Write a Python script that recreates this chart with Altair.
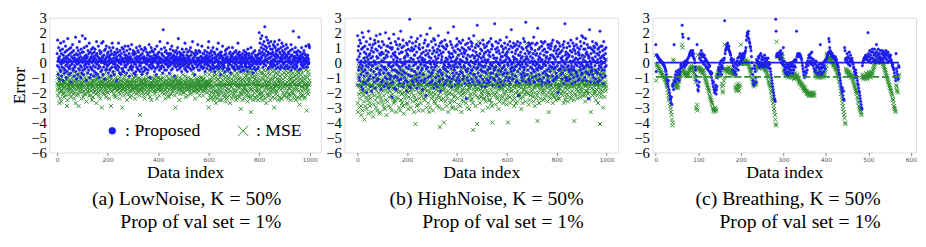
import altair as alt
import pandas as pd

# ---------------------------------------------------------------------------
# Data. Each value is stored as a two-digit code:
#   error = (code - 60) / 10      (e.g. 60 -> 0.0, 45 -> -1.5, 72 -> 1.2)
# ---------------------------------------------------------------------------
LOWNOISE_PROPOSED = """
66 58 75 61 52 63 70 57 49 62
64 55 68 60 73 54 59 66 51 61
57 69 62 48 65 60 74 56 63 53
61 67 55 71 58 50 64 62 68 59
54 63 76 60 57 65 52 69 61 56
62 58 66 53 70 61 47 64 59 67
60 72 56 63 55 68 62 51 65 58
63 57 61 77 54 60 66 49 62 70
59 65 52 62 68 56 63 60 74 55
66 61 58 64 50 69 57 62 53 67
78 60 55 63 67 52 61 70 58 64
56 76 62 59 65 48 63 71 60 57
64 53 68 61 55 66 59 73 62 50
61 67 57 63 52 64 69 56 60 66
55 62 70 58 64 51 61 67 54 63
69 57 60 65 53 62 74 59 66 52
60 64 56 71 61 58 50 63 68 62
57 66 62 54 67 60 73 55 61 64
63 52 74 60 57 65 61 68 49 59
62 69 55 63 60 71 56 64 58 66
58 61 67 53 64 59 62 70 55 63
65 56 60 68 51 62 66 57 73 60
61 70 54 63 59 65 52 61 67 57
59 63 66 56 62 48 64 69 58 62
67 55 61 73 57 60 65 53 62 68
60 64 52 59 66 61 56 70 63 54
56 62 69 61 54 67 60 58 65 71
63 58 57 65 62 53 68 61 59 64
62 71 60 55 63 66 51 62 69 57
64 56 63 60 58 72 62 55 61 66
57 68 61 65 53 60 67 59 63 52
66 59 54 62 70 57 64 61 56 68
61 63 67 55 60 64 58 71 62 54
58 65 60 69 56 63 52 66 60 63
63 54 68 61 64 57 62 70 55 60
69 61 56 63 59 67 60 53 65 62
55 66 62 58 72 61 64 57 50 67
62 59 70 64 56 60 68 62 58 63
60 67 57 61 65 54 63 69 61 56
65 62 64 52 60 71 57 63 66 59
58 64 61 67 55 63 60 74 62 57
63 56 69 60 66 58 62 65 53 61
82 61 57 64 60 70 55 62 67 59
61 68 63 55 62 59 66 73 58 64
57 62 66 60 53 65 61 58 69 63
66 59 55 63 71 60 64 56 62 68
60 65 62 58 64 51 67 61 59 63
62 57 68 64 60 66 55 70 62 58
76 63 59 61 67 56 64 62 57 65
59 66 61 54 63 69 58 62 65 60
64 58 67 62 56 61 73 59 63 55
61 69 57 65 60 54 62 67 58 64
57 63 64 59 68 62 56 61 70 60
65 60 55 67 61 58 74 63 57 62
62 56 66 60 64 52 61 65 59 68
60 67 61 57 63 66 58 72 62 55
63 59 68 62 55 61 67 60 64 57
58 64 60 71 62 57 63 56 66 61
66 61 57 63 59 68 54 64 60 62
59 65 63 56 67 60 62 58 70 64
74 58 62 66 60 55 64 61 57 67
62 68 56 61 65 59 63 70 58 60
56 63 67 60 54 66 61 57 64 62
64 57 61 69 62 58 65 60 73 56
61 66 59 63 57 64 52 67 60 65
67 60 64 58 62 71 56 63 59 61
58 62 57 65 60 54 68 61 66 63
63 69 61 56 64 60 62 58 55 70
60 56 66 62 59 67 63 53 61 64
65 61 58 64 70 57 62 66 60 56
57 63 67 60 55 62 59 64 68 61
62 58 61 66 63 56 73 60 57 65
64 67 56 62 60 65 58 61 54 63
59 61 64 57 66 60 63 55 62 68
63 55 60 65 58 62 67 59 64 57
60 66 62 54 61 69 57 63 60 65
66 59 57 63 64 56 62 70 58 61
58 64 66 60 53 63 59 62 67 56
62 57 61 68 60 65 55 64 61 59
61 63 59 56 65 60 62 57 66 63
80 68 62 73 59 66 76 61 70 64
63 78 67 60 72 57 65 69 61 74
59 66 84 62 71 64 58 68 77 61
70 62 65 75 60 67 56 73 63 66
57 71 63 66 59 69 74 61 64 58
66 60 69 57 67 62 72 59 65 71
62 74 58 64 70 61 66 56 68 63
68 59 65 72 57 64 61 69 60 75
61 67 56 63 66 58 70 62 64 57
73 62 68 60 65 71 59 63 67 56
60 66 63 57 69 61 64 72 58 65
64 58 70 62 56 67 60 66 61 63
57 63 61 68 64 59 72 55 65 60
65 69 57 62 60 81 58 64 63 67
62 56 64 70 59 63 67 61 57 66
58 65 60 63 68 62 55 77 61 64
63 61 67 56 62 65 59 63 70 58
60 64 58 66 61 57 63 68 62 59
66 59 62 60 65 71 57 63 60 64
61 57 65 63 59 62 72 60 71 70
"""

LOWNOISE_MSE = """
46 42 50 38 45 53 44 40 47 33
48 43 36 51 45 41 49 34 46 44
41 55 45 39 47 43 52 37 44 48
44 47 40 46 53 42 38 49 45 31
49 35 46 43 50 44 41 47 56 39
43 48 42 52 37 45 47 40 44 50
46 41 54 44 39 48 43 36 51 45
40 47 45 33 49 42 46 52 38 44
47 44 39 50 43 31 48 45 41 53
45 51 43 47 40 46 36 49 44 42
42 46 48 37 52 44 41 47 39 55
50 39 44 46 42 49 34 45 48 43
44 53 41 40 47 45 50 38 46 42
38 45 49 43 56 41 46 44 35 48
46 42 37 51 44 48 40 47 43 52
41 48 45 39 46 33 49 42 50 44
49 43 52 45 40 47 38 46 44 41
44 36 46 50 42 45 48 30 47 43
47 51 40 44 49 39 45 52 41 46
43 45 48 42 37 54 44 46 49 40
45 40 44 47 51 43 36 48 45 42
50 46 42 31 45 49 44 41 47 53
42 48 45 44 39 46 52 43 38 47
46 37 50 43 48 44 41 55 45 42
44 49 43 46 40 47 45 36 50 43
39 45 48 41 53 42 46 44 30 48
47 42 44 49 45 38 43 51 46 41
43 52 46 40 44 48 35 45 42 47
48 44 39 46 50 43 47 41 45 37
45 41 47 44 38 52 46 43 49 42
42 47 45 50 43 40 46 48 36 44
46 43 51 39 47 44 42 45 49 41
44 48 40 46 42 50 45 38 25 47
49 42 45 43 48 41 47 53 44 40
43 46 38 49 45 44 36 46 42 48
47 40 49 44 52 43 45 41 47 39
45 50 42 46 40 48 44 37 45 43
41 44 47 35 46 42 50 45 48 44
48 43 45 49 41 46 39 44 42 51
44 47 41 45 48 36 46 43 50 42
46 42 50 43 38 47 45 49 44 41
43 49 44 46 42 45 53 40 47 45
50 41 46 39 47 44 42 48 36 45
42 46 48 44 51 43 40 45 47 38
47 44 37 49 45 42 48 46 43 52
45 39 46 42 48 50 44 41 46 43
41 48 44 47 43 45 38 49 30 46
49 43 51 45 40 46 47 42 44 48
44 46 42 48 35 43 50 45 39 47
46 41 45 43 47 49 42 44 52 40
43 48 46 40 45 42 47 51 44 37
47 44 49 46 42 38 45 43 48 45
42 50 43 47 45 44 41 46 39 49
45 40 47 42 48 46 44 53 43 41
48 46 44 51 41 45 36 47 45 43
44 42 48 45 49 40 46 42 47 50
41 47 45 38 44 48 43 46 50 42
46 43 50 44 47 41 45 49 38 44
45 49 41 46 43 47 52 44 42 46
43 45 47 40 48 44 46 35 45 47
30 46 52 41 55 38 49 43 36 47
48 40 54 45 37 50 44 56 42 35
44 51 39 47 53 41 37 45 50 33
52 41 48 36 55 45 40 49 43 39
38 46 54 42 35 50 47 41 56 44
47 35 40 52 45 42 55 38 48 51
45 53 46 37 44 50 39 48 34 41
36 45 51 43 37 54 47 40 49 46
50 42 38 55 45 33 41 47 52 44
44 49 36 45 53 40 46 38 48 42
46 39 51 41 45 56 37 50 35 47
41 53 45 48 36 44 38 52 43 49
54 44 37 50 46 40 48 29 45 39
39 47 42 55 35 49 45 41 53 43
48 36 50 40 47 43 56 38 42 51
45 52 41 46 34 49 40 55 47 38
37 47 53 43 49 36 42 27 51 44
42 55 46 38 41 50 47 35 46 53
51 40 45 49 37 44 54 41 36 47
43 48 38 52 46 35 41 50 45 39
47 36 55 42 48 45 39 53 44 37
40 50 44 35 53 46 49 38 45 55
52 41 47 45 36 51 43 48 33 46
44 55 39 50 47 38 53 42 45 40
38 47 52 43 35 49 44 56 41 48
46 40 49 54 42 37 45 51 43 30
55 44 36 47 50 41 53 39 46 44
41 49 45 38 52 47 35 48 54 43
49 37 51 44 46 55 42 36 48 45
36 52 43 49 40 47 58 44 38 53
64 45 38 50 43 55 46 40 52 37
47 56 41 45 53 36 48 43 39 50
43 38 54 46 35 49 45 52 41 47
50 44 40 53 47 39 57 42 48 36
38 51 46 42 55 44 35 49 45 52
54 42 48 37 46 50 41 45 53 32
45 36 52 49 40 47 55 38 44 48
41 53 44 38 50 43 47 56 36 46
49 45 37 51 42 55 40 46 28 44
43 50 47 39 54 41 45 52 46 48
"""

HIGHNOISE_PROPOSED = """
62 78 45 68 55 71 50 64 57 75
48 66 59 73 52 61 44 69 56 80
58 42 70 54 77 47 63 51 67 60
71 55 61 46 66 58 74 53 40 64
53 69 48 62 57 81 49 65 59 72
66 51 76 44 63 55 68 41 70 58
45 64 58 72 50 67 54 61 47 75
60 73 43 59 69 52 78 56 64 48
68 56 63 49 74 45 60 71 53 66
52 79 55 65 42 70 58 47 67 61
74 48 66 57 61 53 72 44 63 56
57 63 50 80 46 68 55 65 49 71
64 45 71 53 67 59 43 76 58 52
49 70 60 46 73 51 64 57 69 37
70 55 47 66 58 62 79 50 43 65
55 67 74 51 64 42 59 72 54 61
63 50 58 69 45 76 53 48 66 57
46 72 62 55 81 49 67 60 52 70
67 58 44 75 60 54 71 46 63 50
59 64 53 61 48 68 57 73 41 66
72 47 65 52 69 56 61 44 58 74
89 61 51 68 43 63 77 55 70 48
51 68 73 47 62 58 45 69 54 65
65 54 59 71 49 74 60 52 67 43
48 76 56 63 57 46 70 61 50 72
69 53 64 45 78 59 48 66 55 62
56 63 42 70 52 67 61 47 73 58
62 49 75 58 65 38 68 56 60 79
45 71 57 66 50 72 54 64 46 61
68 60 83 51 59 63 47 74 57 53
53 66 48 70 61 55 76 43 68 59
75 57 64 46 72 50 62 58 45 67
60 44 69 63 54 78 51 65 71 48
47 68 55 73 41 60 66 53 62 74
64 52 71 49 67 57 45 70 59 56
58 75 46 61 55 69 63 48 72 51
71 54 62 57 80 45 59 67 50 64
50 66 58 74 47 63 56 72 61 44
66 49 70 53 64 58 84 51 68 57
55 61 45 67 59 71 48 62 53 76
63 72 57 50 69 46 65 60 74 52
48 59 68 62 54 73 57 45 66 61
70 53 61 75 49 64 51 69 58 67
57 66 46 60 72 55 68 36 63 54
62 50 73 56 65 48 70 59 76 45
46 69 58 64 53 74 61 55 49 71
73 55 65 47 60 68 52 78 57 63
52 64 59 70 45 61 67 50 72 56
65 85 48 62 57 53 71 46 64 59
59 47 66 73 51 69 55 63 58 44
68 61 54 49 75 57 64 72 47 66
54 70 62 58 44 67 53 60 71 49
61 46 73 55 68 62 48 65 57 74
47 67 56 64 59 50 76 53 69 58
72 58 45 71 53 65 60 49 63 55
56 86 63 48 69 57 74 61 52 67
63 51 70 60 46 73 55 68 59 44
49 66 58 75 62 54 47 64 71 60
71 56 64 52 67 45 69 57 61 53
58 73 48 65 55 70 62 50 66 77
64 53 67 59 72 48 58 63 45 69
50 62 74 46 61 56 71 54 82 59
67 57 52 70 49 64 60 73 55 62
55 71 63 57 66 51 68 47 72 58
62 48 69 74 54 60 38 65 59 71
46 65 56 61 73 58 67 52 63 50
70 59 64 48 57 69 53 76 61 55
57 74 51 66 62 47 87 59 70 64
63 52 68 58 71 55 62 49 66 73
48 67 60 72 46 64 57 70 53 61
69 56 73 50 63 59 66 55 77 47
54 61 47 68 58 72 51 65 60 56
66 73 59 55 83 48 62 69 57 64
52 58 70 63 49 66 56 61 74 45
71 47 62 57 68 53 73 59 50 65
59 69 54 74 61 46 58 67 63 52
64 55 67 48 72 60 51 70 56 62
47 72 58 63 54 69 65 45 71 57
73 57 65 51 60 75 48 64 59 68
56 63 49 70 57 62 71 53 66 50
68 51 74 58 64 40 60 69 55 73
55 66 60 45 71 56 67 52 63 58
62 49 68 64 53 72 57 61 70 46
74 60 55 86 59 65 50 67 48 62
50 70 63 57 66 48 73 58 64 55
65 54 71 49 61 68 56 75 52 60
58 67 46 64 55 73 61 50 69 57
71 55 62 68 47 59 66 63 54 72
53 76 58 51 70 62 48 67 60 65
66 49 69 57 63 74 55 59 71 52
60 78 53 65 58 48 77 62 56 69
73 57 64 50 69 61 76 54 66 58
48 67 59 72 53 65 58 70 36 63
64 52 82 57 61 70 47 66 59 54
57 69 55 63 74 52 62 68 50 71
67 46 61 70 58 64 55 49 73 60
54 72 66 53 62 47 69 60 56 65
70 58 48 67 81 63 52 71 57 61
59 64 71 55 50 68 60 46 65 74
63 55 60 69 57 51 66 62 70 58
"""

HIGHNOISE_MSE = """
45 33 52 27 48 58 39 44 30 55
36 50 42 61 31 47 25 53 40 46
54 28 46 38 57 43 34 49 22 41
40 56 31 47 44 63 37 29 51 45
48 35 59 42 26 50 46 38 55 33
31 52 44 36 60 41 49 27 45 57
57 39 48 24 43 53 32 47 38 50
43 61 35 51 46 30 56 41 49 28
50 37 45 58 33 44 40 54 26 47
38 49 27 44 52 36 62 43 48 34
46 55 41 32 49 66 38 45 30 53
29 44 51 47 35 42 56 25 46 40
52 34 47 43 58 31 45 50 37 44
41 57 30 50 45 38 54 44 28 48
47 39 55 36 42 51 33 46 60 35
34 50 44 59 27 48 41 37 53 45
55 42 36 48 52 40 71 30 45 49
44 28 53 41 46 35 50 57 39 33
39 51 45 31 55 47 26 43 52 40
48 36 60 44 38 53 42 49 32 56
33 46 40 64 29 45 51 37 47 43
52 41 48 36 57 30 44 55 40 46
45 55 34 49 42 61 38 46 27 50
37 44 51 19 47 35 53 42 48 31
50 32 46 57 40 44 28 52 36 47
43 54 39 45 33 58 47 41 51 38
56 40 49 28 53 44 36 47 42 59
35 47 52 43 37 50 45 30 55 41
48 38 44 60 46 33 51 40 27 45
41 53 30 47 39 56 43 49 36 52
54 44 37 51 28 46 40 67 45 34
39 50 45 33 55 42 48 36 52 44
46 31 52 41 47 38 57 43 30 49
37 17 44 54 40 49 35 46 51 42
51 44 29 47 56 36 45 20 42 53
43 55 40 34 48 52 38 46 31 47
57 36 49 45 41 27 54 39 48 44
40 48 33 52 46 43 58 35 45 30
47 39 55 42 30 50 44 49 37 56
34 52 45 38 57 41 47 29 53 43
49 42 36 65 44 48 32 51 40 46
44 58 47 31 50 38 45 55 27 41
53 35 42 48 39 56 43 34 50 47
38 46 51 40 60 33 49 45 42 54
45 30 48 55 36 47 41 52 29 43
51 43 38 46 53 39 57 44 35 49
36 54 45 33 48 15 42 50 46 39
48 41 52 44 31 50 38 47 55 42
42 19 46 37 58 43 74 48 36 51
55 47 33 50 42 45 37 56 40 46
39 52 45 28 49 41 64 36 47 44
47 36 50 43 57 34 45 52 38 41
44 55 40 48 30 46 51 39 53 35
52 38 49 35 45 56 42 47 33 50
31 46 20 53 40 44 38 50 45 57
49 43 55 39 47 32 51 44 58 37
40 51 36 46 54 42 48 29 44 52
56 34 47 52 38 49 43 55 36 45
43 48 42 37 60 45 33 47 51 40
47 39 53 44 35 50 46 41 56 32
36 51 45 68 42 20 49 38 46 53
53 44 37 47 33 55 41 50 43 48
41 57 48 35 50 44 54 38 45 31
49 36 52 43 58 40 46 33 51 45
45 50 34 54 41 47 38 56 44 39
38 44 53 46 36 52 43 48 29 63
54 40 47 33 51 45 37 49 42 50
42 53 39 56 44 34 48 63 46 41
73 46 52 40 47 55 39 44 32 50
47 35 44 51 38 49 45 53 41 57
39 52 48 42 66 37 50 34 46 44
51 43 31 47 40 54 45 49 36 52
45 38 55 21 49 44 52 40 47 33
33 50 42 46 36 51 43 57 45 48
56 44 48 39 53 41 35 46 50 42
40 47 36 52 45 58 44 38 53 46
48 55 43 34 50 46 40 49 27 44
44 37 51 47 42 36 55 45 50 39
52 46 40 55 33 48 43 51 38 47
37 42 54 44 49 40 47 35 56 45
49 53 38 46 43 65 36 50 44 41
43 36 50 42 55 45 52 39 47 54
55 47 44 53 38 49 41 46 33 50
40 52 46 35 51 43 57 44 48 37
46 39 55 48 42 34 50 45 53 43
51 45 37 52 47 40 54 36 49 44
38 54 46 41 56 44 48 52 35 47
47 21 51 44 39 53 45 38 50 42
53 42 48 36 52 46 41 55 44 49
44 50 39 54 45 37 51 47 42 56
41 64 47 43 49 52 38 45 53 40
50 38 53 46 34 48 44 56 41 47
45 52 41 57 47 39 54 43 36 51
36 47 55 40 52 44 49 27 46 53
54 43 45 51 38 56 42 48 44 39
48 67 40 46 53 41 47 35 55 45
42 45 52 38 47 54 33 50 43 49
55 40 47 53 19 45 51 42 48 37
39 49 44 56 46 41 53 30 45 52
46 53 37 45 50 43 47 41 62 44
"""

BREATHING_PROPOSED = """
72 54 65 65 64 64 63 63 62 62
62 61 61 61 60 60 60 59 59 58
58 57 56 55 54 52 50 48 46 44
48 42 40 38 36 35 33 37 32 45
44 46 42 72 48 50 52 47 54 51
49 51 53 55 50 48 52 54 56 58
59 57 85 79 77 60 58 57 59 61
58 60 59 61 62 60 63 76 64 65
66 67 65 68 67 66 65 68 64 66
63 62 60 57 55 51 48 72 45 42
41 44 47 63 66 62 65 68 61 64
66 60 64 59 65 61 63 58 62 57
61 56 60 55 59 57 54 58 53 54
52 50 53 48 46 44 47 42 40 43
41 45 39 42 44 50 52 55 57 56
55 59 54 61 57 52 58 62 56 60
62 63 88 66 68 69 70 72 71 73
70 69 71 68 67 66 65 62 63 61
60 55 58 62 53 57 60 54 59 52
56 61 58 63 55 60 64 59 66 61
64 63 65 62 64 66 63 65 64 66
67 68 70 75 78 80 77 79 81 76
74 73 71 70 68 64 60 56 52 48
46 45 58 56 54 50 47 62 60 61
61 64 59 63 57 65 60 66 58 62
64 59 62 57 63 60 65 58 61 63
59 62 57 60 63 58 60 56 59 56
54 52 50 48 46 44 42 40 38 36
35 34 89 81 64 65 66 64 65 66
64 67 62 65 68 60 63 66 59 61
70 58 61 55 57 53 56 59 52 57
54 58 51 56 59 53 57 55 60 58
55 59 53 57 61 55 58 62 57 61
62 81 64 65 66 65 64 65 66 64
65 64 63 62 60 58 56 54 52 51
50 54 51 57 53 59 55 61 58 63
65 60 64 61 66 59 63 67 60 62
58 62 56 60 54 59 55 61 57 53
58 53 57 51 56 59 54 72 57 52
56 59 53 57 60 54 58 61 56 62
61 62 63 64 65 66 67 76 74 70
68 66 67 65 64 66 65 64 63 64
63 62 64 63 61 62 60 59 58 57
55 53 52 50 48 46 44 42 40 43
38 36 41 35 70 68 62 63 61 62
66 60 64 59 63 67 61 58 65 62
62 63 61 60 59 57 56 54 52 50
55 53 51 50 48 46 45 43 41 40
38 36 34 32 30 29 58 60 61 62
63 62 64 63 65 64 63 62 64 80
66 61 64 68 62 65 60 67 63 69
63 67 61 65 69 62 66 60 64 72
67 61 65 69 63 66 60 64 68 62
61 66 63 68 62 65 67 60 64 66
63 68 65 62 66 60 67 64 61 65
63 64 65 62 61 60 58 59 57 56
55 53 51 50 48 66 56 54 52 50
49 58 57
"""

BREATHING_MSE = """
65 48 59 58 58 57 57 56 56 55
55 54 54 53 53 52 52 51 51 50
50 49 49 48 47 46 45 44 42 40
38 36 35 33 31 29 27 25 22 18
20 62 61 48 47 45 46 44 43 45
44 46 45 43 47 48 50 52 51 53
54 56 72 70 55 54 53 55 52 53
52 51 53 52 54 51 52 53 55 54
56 55 57 56 58 57 56 55 57 54
53 52 50 49 47 30 29 32 28 65
57 56 55 57 56 54 55 56 54 53
55 54 53 55 52 51 50 49 48 47
46 45 44 43 42 41 40 38 37 36
35 34 33 32 30 29 28 29 27 28
30 29 28 50 52 51 53 52 54 55
53 52 54 55 56 46 44 41 40 45
48 50 72 55 56 54 55 56 54 53
55 56 57 54 53 55 56 54 55 53
52 54 53 51 55 53 52 44 43 42
41 45 44 42 46 43 41 45 44 60
72 59 60 61 59 60 62 61 60 59
61 60 62 61 59 60 61 60 59 58
57 56 55 54 53 52 50 49 47 46
45 44 46 48 47 45 46 55 57 58
57 58 59 56 57 58 60 59 58 57
58 56 57 59 58 57 56 55 56 54
55 53 52 51 50 48 47 46 45 44
43 41 40 38 36 35 33 31 29 27
25 22 19 18 74 64 65 64 65 66
64 65 63 64 65 64 63 66 64 62
58 55 54 53 55 52 54 53 51 52
53 52 50 51 53 52 54 51 50 52
51 53 50 52 51 49 50 52 53 51
50 49 51 52 50 48 49 47 46 48
47 46 45 44 46 45 43 44 42 41
44 43 42 41 40 41 39 40 39 38
40 39 38 39 40 38 39 38 40 39
38 39 40 38 55 53 52 54 51 50
52 53 51 50 52 54 53 51 52 50
51 53 54 52 50 51 53 54 52 55
56 58 66 65 64 63 62 61 63 64
62 63 61 62 60 61 59 60 58 59
58 57 56 57 55 56 54 53 52 51
50 48 47 45 43 41 39 37 35 33
31 29 27 25 23 20 19 56 55 54
53 55 54 52 51 53 54 52 51 50
52 51 50 49 48 47 46 45 44 43
42 41 40 39 37 36 34 33 31 30
29 28 27 26 25 50 52 51 49 50
51 52 50 49 51 53 52 50 49 51
52 54 53 51 52 50 51 53 54 52
53 55 56 58 57 59 60 62 68 61
61 62 60 61 62 60 61 62 61 60
61 60 62 61 59 60 58 57 56 55
54 53 52 51 50 49 48 47 46 45
44 43 42 41 40 39 38 36 35 33
31 30 29 28 27 45 44 42 41 40
48 51 52
"""

# Mean-error reference lines (solid blue = Proposed, dashed green = MSE)
PROPOSED_MEAN = [0.05, 0.02, 0.0]
MSE_MEAN = [-1.5, -1.5, -0.95]

SERIES = ["Proposed", "MSE"]
CAPTIONS = [
    ["(a)  LowNoise, K = 50%", "Prop of val set = 1%"],
    ["(b) HighNoise, K = 50%", "Prop of val set = 1%"],
    ["(c) Breathing, K = 50%", "Prop of val set = 1%"],
]
X_DOMAINS = [[-31, 1044], [-52, 1046], [-8, 612]]
X_TICKS = [[0, 200, 400, 600, 800, 1000], [0, 200, 400, 600, 800, 1000],
           [0, 100, 200, 300, 400, 500, 600]]
Y_TICKS = [-6, -5, -4, -3, -2, -1, 0, 1, 2, 3]

BLUE = "#1c1cf0"
GREEN = "#2e8f2e"
SERIF = "Liberation Serif"
X_PATH = "M-1.5,-1.5L1.5,1.5M-1.5,1.5L1.5,-1.5"


def decode(text):
    return [(int(t) - 60) / 10 for t in text.split()]


def panel(i, prop_text, mse_text, width, show_legend, caption_dx):
    prop = decode(prop_text)
    mse = decode(mse_text)
    df = pd.DataFrame({
        "idx": list(range(len(mse))) + list(range(len(prop))),
        "err": mse + prop,
        "series": ["MSE"] * len(mse) + ["Proposed"] * len(prop),
    })
    lines = pd.DataFrame({
        "idx": [0, 0],
        "idx_end": [len(prop) - 1, len(mse) - 1],
        "err": [PROPOSED_MEAN[i], MSE_MEAN[i]],
        "series": ["Proposed", "MSE"],
    })
    xs = alt.Scale(domain=X_DOMAINS[i], nice=False, zero=False)
    ys = alt.Scale(domain=[-6, 3], nice=False, zero=False)
    xaxis = alt.Axis(values=X_TICKS[i], format="d", title="Data index", grid=False, domain=False,
                     labelFont="DejaVu Sans", labelFontSize=6, labelColor="#555555",
                     tickSize=3, tickColor="#888888", labelPadding=1,
                     titleFont=SERIF, titleFontSize=18, titleFontWeight="normal",
                     titleColor="black", titlePadding=1)
    yaxis = alt.Axis(values=Y_TICKS, format="d", title="Error" if i == 0 else None,
                     grid=False, domain=False, ticks=False, labelPadding=3,
                     labelFont=SERIF, labelFontSize=15, labelColor="black",
                     titleFont=SERIF, titleFontSize=18, titleFontWeight="normal",
                     titleColor="black", titlePadding=2)
    if show_legend:
        leg = alt.Legend(orient="none", legendX=55, legendY=106, direction="horizontal",
                         title=None, labelFont=SERIF, labelFontSize=18, labelColor="black",
                         labelExpr="': ' + datum.label", symbolSize=50,
                         columnPadding=34, labelOffset=4, padding=0)
    else:
        leg = None
    points = alt.Chart(df).mark_point(size=7, opacity=1).encode(
        x=alt.X("idx:Q", scale=xs, axis=xaxis),
        y=alt.Y("err:Q", scale=ys, axis=yaxis),
        color=alt.Color("series:N", scale=alt.Scale(domain=SERIES, range=[BLUE, GREEN]), legend=leg),
        fill=alt.Fill("series:N", scale=alt.Scale(domain=SERIES, range=[BLUE, "transparent"]), legend=leg),
        shape=alt.Shape("series:N", scale=alt.Scale(domain=SERIES, range=["circle", X_PATH]), legend=leg),
        strokeWidth=alt.StrokeWidth("series:N", scale=alt.Scale(domain=SERIES, range=[0.4, 1.0]), legend=leg),
    )
    blue_line = alt.Chart(lines).transform_filter("datum.series == 'Proposed'").mark_rule(
        color=BLUE, strokeWidth=2).encode(
        x=alt.X("idx:Q", scale=xs, axis=xaxis), x2="idx_end:Q",
        y=alt.Y("err:Q", scale=ys, axis=yaxis))
    green_line = alt.Chart(lines).transform_filter("datum.series == 'MSE'").mark_rule(
        color=GREEN, strokeWidth=2, strokeDash=[7, 3]).encode(
        x=alt.X("idx:Q", scale=xs, axis=xaxis), x2="idx_end:Q",
        y=alt.Y("err:Q", scale=ys, axis=yaxis))
    return alt.layer(points, blue_line, green_line).properties(
        width=width, height=137,
        title=alt.TitleParams(text=CAPTIONS[i], orient="bottom", anchor="end", align="right",
                              frame="group", dx=caption_dx, offset=8, font=SERIF,
                              fontSize=20, fontWeight="normal", color="black", lineHeight=24),
    )


pa = panel(0, LOWNOISE_PROPOSED, LOWNOISE_MSE, 276, True, -40)
pb = panel(1, HIGHNOISE_PROPOSED, HIGHNOISE_MSE, 278, False, -35)
pc = panel(2, BREATHING_PROPOSED, BREATHING_MSE, 268, False, -36)

left = alt.hconcat(pa, pb, spacing=3).resolve_scale(
    color="independent", fill="independent", shape="independent", strokeWidth="independent")
chart = alt.hconcat(left, pc, spacing=14).resolve_scale(
    color="independent", fill="independent", shape="independent", strokeWidth="independent"
).properties(
    padding={"left": 2, "top": 0, "right": 0, "bottom": 0}
).configure_view(stroke="#9a9a9a", strokeWidth=1).configure(font=SERIF).configure_axis(
    labelFont=SERIF, titleFont=SERIF
).configure_axisX(labelFont="DejaVu Sans").configure_legend(labelFont=SERIF).configure_title(font=SERIF)

chart.save("out.html", embed_options={"renderer": "svg", "actions": False})
